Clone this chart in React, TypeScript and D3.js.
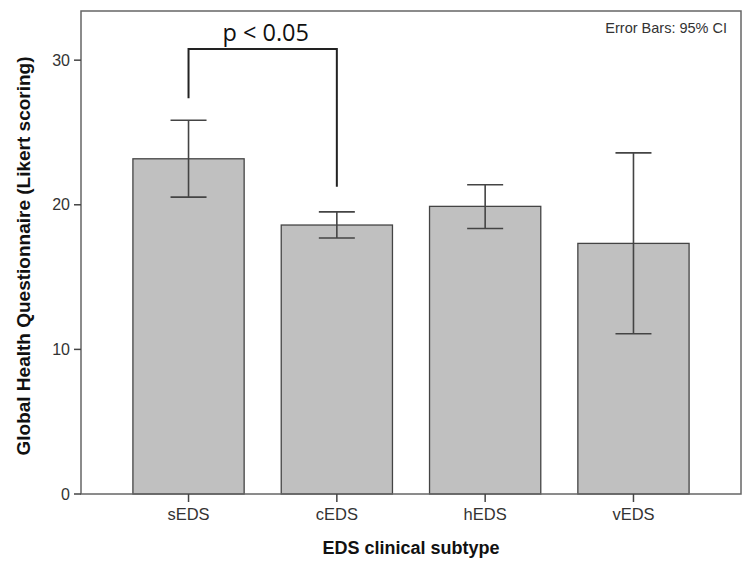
import React from "react";
import * as d3 from "d3";

const categories = ["sEDS", "cEDS", "hEDS", "vEDS"];
const means = [23.18, 18.6, 19.89, 17.33];
const ciLow = [20.53, 17.7, 18.36, 11.08];
const ciHigh = [25.85, 19.51, 21.38, 23.59];
const yTicks = [0, 10, 20, 30];

const W = 752;
const H = 565;
const left = 81, right = 741, top = 11, bottom = 494;

export default function App() {
  const x = d3.scalePoint<string>().domain(categories).range([left, right]).padding(0.725);
  const y = d3.scaleLinear().domain([0, 33.4]).range([bottom, top]);
  const step = x.step();
  const bw = step * 0.75;
  const cap = 18;
  const fontSans = "'Liberation Sans', Arial, sans-serif";
  const x0 = x("sEDS")!;
  const x1 = x("cEDS")!;
  const bracketY = 49;

  return (
    <svg width={W} height={H} style={{ position: "absolute", left: 0, top: 0, background: "#fff" }}>
      <rect x={0} y={0} width={W} height={H} fill="#fff" />
      {categories.map((c, i) => (
        <rect key={c} x={x(c)! - bw / 2} y={y(means[i])} width={bw} height={y(0) - y(means[i])}
          fill="#c0c0c0" stroke="#444" strokeWidth={1.3} />
      ))}
      {categories.map((c, i) => {
        const cx = x(c)!;
        return (
          <g key={c} stroke="#444" strokeWidth={1.6}>
            <line x1={cx} x2={cx} y1={y(ciLow[i])} y2={y(ciHigh[i])} />
            <line x1={cx - cap} x2={cx + cap} y1={y(ciLow[i])} y2={y(ciLow[i])} />
            <line x1={cx - cap} x2={cx + cap} y1={y(ciHigh[i])} y2={y(ciHigh[i])} />
          </g>
        );
      })}
      <rect x={left} y={top} width={right - left} height={bottom - top} fill="none" stroke="#666" strokeWidth={1.5} />
      {yTicks.map((t) => (
        <g key={t}>
          <line x1={left - 7} x2={left} y1={y(t)} y2={y(t)} stroke="#444" strokeWidth={1.5} />
          <text x={left - 11} y={y(t)} dy="0.35em" textAnchor="end" fontFamily={fontSans} fontSize={16} fill="#333">{t}</text>
        </g>
      ))}
      {categories.map((c) => (
        <g key={c}>
          <line x1={x(c)!} x2={x(c)!} y1={bottom} y2={bottom + 8} stroke="#444" strokeWidth={1.5} />
          <text x={x(c)!} y={520} textAnchor="middle" fontFamily={fontSans} fontSize={16.5} fill="#333">{c}</text>
        </g>
      ))}
      <text x={(left + right) / 2} y={554} textAnchor="middle" fontFamily={fontSans} fontSize={18} fontWeight="bold" fill="#111">EDS clinical subtype</text>
      <text transform={`translate(30, 256) rotate(-90)`} textAnchor="middle" fontFamily={fontSans} fontSize={19} fontWeight="bold" fill="#111">Global Health Questionnaire (Likert scoring)</text>
      <text x={727} y={33} textAnchor="end" fontFamily={fontSans} fontSize={14.5} fill="#333">Error Bars: 95% CI</text>
      <path d={`M${x0},${y(ciHigh[0]) - 22}V${bracketY}H${x1}V${y(ciHigh[1]) - 25}`} fill="none" stroke="#222" strokeWidth={2} />
      <text x={(x0 + x1) / 2 + 3} y={41} textAnchor="middle" fontFamily="'Open Sans', sans-serif" fontSize={23.5} fill="#111">p &lt; 0.05</text>
    </svg>
  );
}
